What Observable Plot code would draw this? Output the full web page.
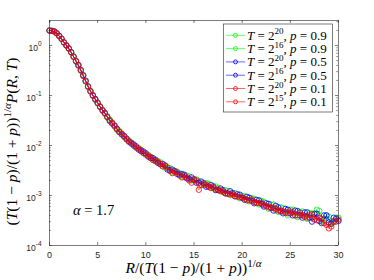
<!DOCTYPE html>
<html>
<head>
<meta charset="utf-8">
<script src="https://cdn.jsdelivr.net/npm/d3@7"></script>
<script src="https://cdn.jsdelivr.net/npm/@observablehq/plot@0.6"></script>
<style>
html,body{margin:0;padding:0;background:#fff;overflow:hidden;}
#chart{width:374px;height:280px;}
</style>
</head>
<body>
<div id="chart"></div>
<script>
// ---------- data ----------
const R_A = [0,0.5,1,1.5,2,2.5,3,3.5,4,4.5,5,5.5,6,6.5,7,7.5,8,8.5,9,9.5,10,10.5,11,11.5,12,12.5,13,13.5,14,14.5,15,15.5,16,16.5,17,17.5,18,18.5,19,19.5,20,20.5,21,21.5,22,22.5,23,23.5,24,24.5,25,25.5,26,26.5,27,27.5,28,28.5,29,29.5,30];
const R_B = [0.25,0.75,1.25,1.75,2.25,2.75,3.25,3.75,4.25,4.75,5.25,5.75,6.25,6.75,7.25,7.75,8.25,8.75,9.25,9.75,10.25,10.75,11.25,11.75,12.25,12.75,13.25,13.75,14.25,14.75,15.25,15.75,16.25,16.75,17.25,17.75,18.25,18.75,19.25,19.75,20.25,20.75,21.25,21.75,22.25,22.75,23.25,23.75,24.25,24.75,25.25,25.75,26.25,26.75,27.25,27.75,28.25,28.75,29.25,29.75];

const P_T20_p09 = [2.0,1.9,1.57,1.14,0.86,0.61,0.39,0.25,0.148,0.101,0.070,0.052,0.036,0.029,0.0208,0.0174,0.0131,0.0115,0.0090,0.0082,0.0066,0.0060,0.0048,0.0046,0.0036,0.0035,0.0029,0.0028,0.00235,0.0024,0.0020,0.00195,0.00162,0.00172,0.00140,0.00142,0.00118,0.00122,0.00104,0.00094,0.00098,0.00082,0.00088,0.00070,0.00078,0.00060,0.00066,0.00050,0.00058,0.00044,0.00052,0.00040,0.00047,0.00037,0.00044,0.00034,0.00049,0.00031,0.00038,0.00029,0.00036];
const P_T16_p09 = [1.96,1.74,1.35,0.99,0.72,0.50,0.31,0.19,0.125,0.082,0.061,0.043,0.033,0.0238,0.0195,0.0146,0.0126,0.0098,0.0089,0.0070,0.0065,0.0052,0.0049,0.0039,0.0037,0.0029,0.0030,0.0024,0.0025,0.0020,0.0021,0.00165,0.00178,0.00140,0.00152,0.00120,0.00128,0.00102,0.00112,0.00088,0.00098,0.00076,0.00086,0.00066,0.00075,0.00054,0.00066,0.00047,0.00056,0.00040,0.00052,0.00037,0.00048,0.00034,0.00044,0.00052,0.00030,0.00040,0.00028,0.00036];
const P_T20_p05 = [2.0,1.92,1.56,1.16,0.88,0.60,0.41,0.255,0.153,0.099,0.072,0.050,0.038,0.0275,0.0218,0.0166,0.0138,0.0109,0.0096,0.0077,0.0070,0.0056,0.0052,0.0042,0.0040,0.0032,0.0031,0.0026,0.0026,0.00215,0.0021,0.00180,0.00176,0.00150,0.00152,0.00128,0.00128,0.00110,0.00112,0.00106,0.00090,0.00094,0.00078,0.00082,0.00068,0.00070,0.00056,0.00062,0.00048,0.00054,0.00044,0.00050,0.00040,0.00046,0.00036,0.00043,0.00031,0.00040,0.00029,0.00036,0.00031];
const P_T16_p05 = [1.97,1.76,1.37,1.01,0.74,0.48,0.325,0.198,0.120,0.086,0.059,0.045,0.031,0.0252,0.0185,0.0156,0.0119,0.0105,0.0083,0.0076,0.0060,0.0056,0.0045,0.0043,0.0033,0.0033,0.0027,0.0027,0.0022,0.0023,0.0018,0.0019,0.00150,0.00162,0.00128,0.00138,0.00110,0.00122,0.00096,0.00104,0.00082,0.00090,0.00070,0.00080,0.00060,0.00068,0.00050,0.00058,0.00044,0.00052,0.00040,0.00049,0.00036,0.00046,0.00030,0.00043,0.00028,0.00040,0.00027,0.00034];
const P_T20_p01 = [1.98,1.90,1.55,1.15,0.87,0.59,0.40,0.245,0.150,0.102,0.070,0.051,0.037,0.0283,0.0210,0.0172,0.0133,0.0113,0.0091,0.0080,0.0066,0.0059,0.0049,0.0043,0.0039,0.0031,0.0030,0.0025,0.0025,0.0020,0.0021,0.0013,0.00172,0.00155,0.00144,0.00132,0.00120,0.00108,0.00106,0.00096,0.00092,0.00080,0.00083,0.00072,0.00072,0.00062,0.00058,0.00054,0.00050,0.00046,0.00048,0.00040,0.00045,0.00038,0.00040,0.00033,0.00036,0.00028,0.00022,0.00030,0.00033];
const P_T15_p01 = [1.96,1.75,1.36,1.00,0.73,0.49,0.32,0.193,0.123,0.083,0.060,0.044,0.032,0.0246,0.0188,0.0152,0.0121,0.0100,0.0087,0.0071,0.0062,0.0051,0.0047,0.0038,0.0036,0.0028,0.0029,0.0023,0.0023,0.0018,0.0020,0.00162,0.00164,0.00142,0.00132,0.00124,0.00112,0.00105,0.00098,0.00092,0.00086,0.00080,0.00074,0.00070,0.00064,0.00058,0.00056,0.00050,0.00048,0.00044,0.00046,0.00040,0.00040,0.00036,0.00042,0.00032,0.00034,0.00026,0.00024,0.00030];

const seriesT = ["20","16","20","16","20","15"];
const seriesP = ["0.9","0.9","0.5","0.5","0.1","0.1"];
const seriesX = [R_A, R_B, R_A, R_B, R_A, R_B];
const seriesY = [P_T20_p09, P_T16_p09, P_T20_p05, P_T16_p05, P_T20_p01, P_T15_p01];
const seriesColor = ["#00ff00","#00ff00","#0000ff","#0000ff","#ff0000","#ff0000"];

const xTicks = [0,5,10,15,20,25,30];
const yTicks = [1e-4,1e-3,1e-2,1e-1,1e0];
const yMinor = [1e-4,1e-3,1e-2,1e-1,1].flatMap(d => [2,3,4,5,6,7,8,9].map(k => k*d)).filter(v => v < 3.16);

// ---------- chart ----------
const W = 374, H = 280, ML = 49, MR = 36, MT = 20, MB = 35;
const FW = W - ML - MR, FH = H - MT - MB;
const axisColor = "#262626";

const marks = [];
seriesY.forEach((ys, s) => {
  const rows = ys.map((v, i) => ({R: seriesX[s][i], P: v}));
  marks.push(Plot.line(rows, {x: "R", y: "P", stroke: seriesColor[s], strokeWidth: 0.6}));
  marks.push(Plot.dot(rows, {x: "R", y: "P", stroke: seriesColor[s], r: 2.7, strokeWidth: 0.8}));
});

marks.push(
  Plot.frame({stroke: axisColor, strokeWidth: 0.6}),
  Plot.tickX(xTicks, {x: d => d, insetTop: FH - 3, stroke: axisColor, strokeWidth: 0.6}),
  Plot.tickX(xTicks, {x: d => d, insetBottom: FH - 3, stroke: axisColor, strokeWidth: 0.6}),
  Plot.tickY(yTicks, {y: d => d, insetRight: FW - 3, stroke: axisColor, strokeWidth: 0.6}),
  Plot.tickY(yTicks, {y: d => d, insetLeft: FW - 3, stroke: axisColor, strokeWidth: 0.6}),
  Plot.tickY(yMinor, {y: d => d, insetRight: FW - 1.8, stroke: axisColor, strokeWidth: 0.5}),
  Plot.tickY(yMinor, {y: d => d, insetLeft: FW - 1.8, stroke: axisColor, strokeWidth: 0.5}),
  Plot.axisX({ticks: xTicks, tickSize: 0, tickPadding: 6, fontSize: 9, fill: axisColor, label: null}),
  Plot.axisY({ticks: yTicks, tickSize: 0, tickPadding: 8, fontSize: 8.5, fill: axisColor, dy: 3,
              tickFormat: d => `${Math.round(Math.log10(d))}`, label: null})
);

const svg = Plot.plot({
  width: W, height: H,
  marginLeft: ML, marginRight: MR, marginTop: MT, marginBottom: MB,
  style: {fontFamily: "'Liberation Sans', Arial, Helvetica, sans-serif", background: "#fff"},
  x: {domain: [0, 30]},
  y: {type: "log", domain: [1e-4, 3.1623]},
  marks
});
document.getElementById("chart").appendChild(svg);

// superscript exponents on y tick labels
svg.querySelectorAll('g[aria-label="y-axis tick label"] text').forEach(t => {
  const e = t.textContent;
  t.textContent = "10";
  const ts = document.createElementNS("http://www.w3.org/2000/svg", "tspan");
  ts.setAttribute("dy", "-5");
  ts.setAttribute("font-size", "6.5");
  ts.textContent = e;
  t.appendChild(ts);
});

const root = d3.select(svg);
const SERIF = "'Liberation Serif', 'Times New Roman', serif";

function rich(sel, parts) {
  parts.forEach(p => {
    const ts = sel.append("tspan").text(p.t);
    if (p.i) ts.attr("font-style", "italic");
    if (p.s) ts.attr("font-size", p.s);
    if (p.dy) ts.attr("dy", p.dy);
  });
  return sel;
}

// x title
rich(root.append("text").attr("x", (ML + W - MR) / 2).attr("y", 273).attr("text-anchor", "middle")
  .attr("font-family", SERIF).attr("font-size", 15.5).attr("fill", "#000"),
  [{t: "R", i: 1}, {t: "/("}, {t: "T", i: 1}, {t: "(1 − "}, {t: "p", i: 1}, {t: ")/(1 + "}, {t: "p", i: 1},
   {t: "))"}, {t: "1/", s: 11, dy: -6.5}, {t: "α", i: 1, s: 11}]);

// y title
rich(root.append("text").attr("transform", "translate(17,141.5) rotate(-90)").attr("text-anchor", "middle")
  .attr("font-family", SERIF).attr("font-size", 15.5).attr("fill", "#000"),
  [{t: "("}, {t: "T", i: 1}, {t: "(1 − "}, {t: "p", i: 1}, {t: ")/(1 + "}, {t: "p", i: 1},
   {t: "))"}, {t: "1/", s: 11, dy: -6.5}, {t: "α", i: 1, s: 11}, {t: "P", i: 1, dy: 6.5}, {t: "("},
   {t: "R", i: 1}, {t: ", "}, {t: "T", i: 1}, {t: ")"}]);

// alpha annotation
rich(root.append("text").attr("x", 73).attr("y", 215).attr("text-anchor", "start")
  .attr("font-family", SERIF).attr("font-size", 14.5).attr("fill", "#000"),
  [{t: "α", i: 1}, {t: " = 1.7"}]);

// legend
const lg = root.append("g");
lg.append("rect").attr("x", 223.5).attr("y", 24).attr("width", 109).attr("height", 88)
  .attr("fill", "#fff").attr("stroke", axisColor).attr("stroke-width", 0.6);
seriesT.forEach((T, s) => {
  const cy = 35.3 + 13.3 * s;
  lg.append("line").attr("x1", 226).attr("x2", 245).attr("y1", cy).attr("y2", cy)
    .attr("stroke", seriesColor[s]).attr("stroke-width", 0.6);
  lg.append("circle").attr("cx", 235.5).attr("cy", cy).attr("r", 2).attr("fill", "none")
    .attr("stroke", seriesColor[s]).attr("stroke-width", 0.8);
  rich(lg.append("text").attr("x", 247).attr("y", cy + 4.5).attr("text-anchor", "start")
    .attr("font-family", SERIF).attr("font-size", 13).attr("fill", "#000"),
    [{t: "T", i: 1}, {t: " = 2"}, {t: T, s: 9, dy: -5.5}, {t: ", ", dy: 5.5}, {t: "p", i: 1}, {t: " = " + seriesP[s]}]);
});
</script>
</body>
</html>
